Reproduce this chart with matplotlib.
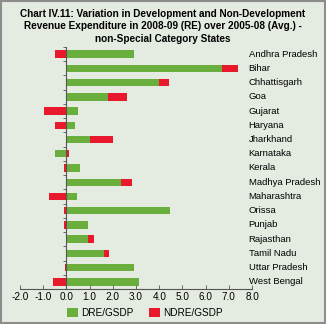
import numpy as np
import matplotlib.pyplot as plt
from matplotlib.patches import Rectangle

# Data (per cent of GSDP)
states = ['Andhra Pradesh', 'Bihar', 'Chhattisgarh', 'Goa', 'Gujarat', 'Haryana',
          'Jharkhand', 'Karnataka', 'Kerala', 'Madhya Pradesh', 'Maharashtra',
          'Orissa', 'Punjab', 'Rajasthan', 'Tamil Nadu', 'Uttar Pradesh', 'West Bengal']
dre = [2.9, 6.7, 4.0, 1.8, 0.5, 0.35, 1.0, -0.47, 0.57, 2.35, 0.46,
       4.47, 0.95, 0.92, 1.64, 2.92, 3.13]
ndre = [-0.5, 0.7, 0.4, 0.8, -0.95, -0.47, 1.0, 0.1, -0.1, 0.48, -0.77,
        -0.12, -0.1, 0.25, 0.2, -0.05, -0.57]
xticks = [-2.0, -1.0, 0.0, 1.0, 2.0, 3.0, 4.0, 5.0, 6.0, 7.0, 8.0]

green = '#6aae3e'
red = '#e8192c'
bg = '#e4ebe1'

plt.rcParams['font.family'] = ['Liberation Sans', 'DejaVu Sans']

fig = plt.figure(figsize=(3.26, 3.24), dpi=100, facecolor=bg)
ax = fig.add_axes([0.0613, 0.108, 0.712, 0.747])
ax.set_facecolor(bg)

y = np.arange(len(states))
dre = np.array(dre)
ndre = np.array(ndre)
# stack red on green only when both have the same sign
red_left = np.where(np.sign(dre) == np.sign(ndre), dre, 0.0)

ax.barh(y, dre, height=0.52, color=green, label='DRE/GSDP')
ax.barh(y, ndre, left=red_left, height=0.52, color=red, label='NDRE/GSDP')

ax.set_xlim(-2, 8)
ax.set_ylim(len(states) - 0.5, -0.5)

for s in ['top', 'right']:
    ax.spines[s].set_visible(False)
ax.spines['left'].set_position(('data', 0))
ax.spines['left'].set_color('#555555')
ax.spines['left'].set_linewidth(0.8)
ax.spines['bottom'].set_color('#555555')
ax.spines['bottom'].set_linewidth(0.8)

ax.set_xticks(xticks)
ax.set_xticklabels(['%.1f' % v for v in xticks], fontsize=7.2)
ax.tick_params(axis='x', direction='in', length=3, width=0.6, pad=2, colors='#555555',
               labelcolor='black')
ax.set_yticks(np.arange(-0.5, len(states), 1.0))
ax.set_yticklabels([])
ax.tick_params(axis='y', direction='out', length=2, width=0.6, colors='#555555')

for i, name in enumerate(states):
    ax.text(7.85, i, name, va='center', ha='left', fontsize=6.8)

fig.text(0.5, 0.972, 'Chart IV.11: Variation in Development and Non-Development\n'
         'Revenue Expenditure in 2008-09 (RE) over 2005-08 (Avg.) -\n'
         'non-Special Category States',
         ha='center', va='top', fontsize=7.2, fontweight='bold', linespacing=1.3)

fig.legend(loc='center', bbox_to_anchor=(0.445, 0.035), ncol=2, frameon=False,
           fontsize=7.2, handlelength=1.1, handleheight=1.1, handletextpad=0.3,
           columnspacing=1.6)

fig.patches.append(Rectangle((0.004, 0.004), 0.992, 0.992, transform=fig.transFigure,
                             fill=False, edgecolor='#8c8c8c', linewidth=1.5))

plt.savefig('out.png', dpi=100, facecolor=bg)
